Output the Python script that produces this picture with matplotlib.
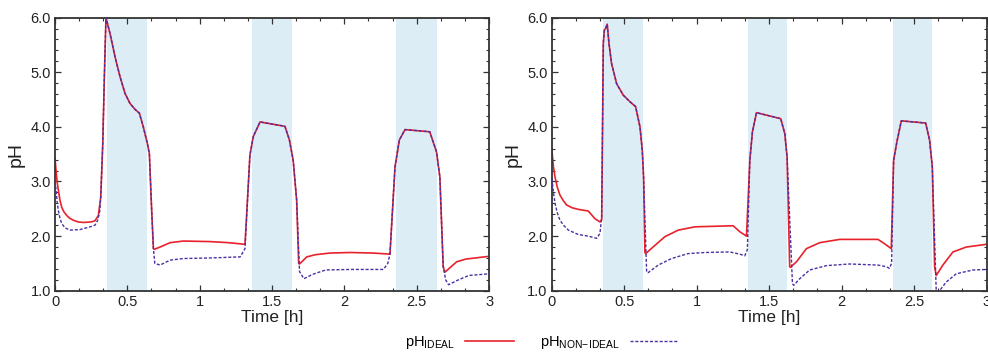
import matplotlib
matplotlib.use('Agg')
import matplotlib.pyplot as plt
from matplotlib.ticker import MultipleLocator

plt.rcParams['font.family'] = ['Liberation Sans', 'DejaVu Sans']
plt.rcParams['mathtext.fontset'] = 'custom'
plt.rcParams['mathtext.rm'] = 'Liberation Sans'

# --- data (time in h, pH) ---
# left panel
t_ideal_a = [0, 0.007, 0.015, 0.023, 0.034, 0.046, 0.06, 0.08, 0.1, 0.127, 0.16, 0.196, 0.25, 0.276, 0.3,
             0.316, 0.33, 0.341, 0.352,
             0.38, 0.415, 0.449, 0.484, 0.518, 0.553, 0.583, 0.61, 0.638, 0.652, 0.668, 0.68, 0.687,
             0.726, 0.795, 0.887, 1.07, 1.2, 1.313, 1.347, 1.37, 1.417, 1.589, 1.62, 1.646, 1.67, 1.684,
             1.69, 1.74, 1.8, 1.9, 2.04, 2.2, 2.315, 2.35, 2.38, 2.419, 2.59, 2.637, 2.66, 2.683, 2.695,
             2.776, 2.84, 3.0]
ph_ideal_a = [3.42, 3.2, 2.98, 2.84, 2.66, 2.53, 2.45, 2.38, 2.33, 2.29, 2.26, 2.25, 2.26, 2.28, 2.38,
              2.72, 3.7, 4.92, 6.0,
              5.71, 5.28, 4.92, 4.61, 4.43, 4.32, 4.25, 4.0, 3.70, 3.51, 2.47, 1.77, 1.76,
              1.80, 1.88, 1.91, 1.9, 1.88, 1.85, 3.48, 3.82, 4.09, 4.01, 3.76, 3.39, 2.66, 1.5,
              1.49, 1.62, 1.66, 1.69, 1.70, 1.69, 1.67, 3.27, 3.76, 3.95, 3.91, 3.54, 3.08, 1.44, 1.34,
              1.53, 1.58, 1.63]

t_nonideal_a = [0, 0.007, 0.015, 0.023, 0.034, 0.046, 0.07, 0.104, 0.173, 0.242, 0.276, 0.295, 0.31, 0.316,
                0.33, 0.341, 0.352,
                0.38, 0.415, 0.449, 0.484, 0.518, 0.553, 0.583, 0.61, 0.638, 0.652, 0.668, 0.68, 0.69,
                0.726, 0.795, 0.887, 1.07, 1.28, 1.313, 1.347, 1.37, 1.417, 1.589, 1.62, 1.646, 1.67, 1.69,
                1.72, 1.78, 1.87, 2.04, 2.27, 2.30, 2.315, 2.35, 2.38, 2.419, 2.59, 2.637, 2.66, 2.683, 2.70,
                2.72, 2.78, 2.86, 3.0]
ph_nonideal_a = [3.0, 2.85, 2.62, 2.47, 2.33, 2.23, 2.15, 2.11, 2.12, 2.17, 2.2, 2.29, 2.47, 2.72,
                 3.7, 4.92, 6.0,
                 5.71, 5.28, 4.92, 4.61, 4.43, 4.32, 4.25, 4.0, 3.70, 3.51, 2.47, 1.77, 1.5,
                 1.47, 1.56, 1.59, 1.6, 1.62, 1.77, 3.48, 3.82, 4.09, 4.01, 3.76, 3.39, 2.66, 1.35,
                 1.22, 1.3, 1.38, 1.39, 1.39, 1.5, 1.67, 3.27, 3.76, 3.95, 3.91, 3.54, 3.08, 1.44, 1.2,
                 1.11, 1.19, 1.28, 1.31]

# right panel
t_ideal_b = [0, 0.004, 0.012, 0.023, 0.038, 0.057, 0.08, 0.103, 0.14, 0.183, 0.252, 0.298, 0.333, 0.345,
             0.356, 0.363, 0.372, 0.383,
             0.395, 0.413, 0.448, 0.494, 0.54, 0.579, 0.609, 0.625, 0.634, 0.643, 0.648, 0.712, 0.781,
             0.873, 0.988, 1.252, 1.298, 1.344, 1.367, 1.385, 1.413, 1.58, 1.608, 1.624, 1.642, 1.647,
             1.689, 1.757, 1.849, 1.987, 2.251, 2.297, 2.343, 2.359, 2.382, 2.412, 2.58, 2.607, 2.626,
             2.642, 2.653, 2.699, 2.768, 2.86, 3.0]
ph_ideal_b = [3.62, 3.5, 3.27, 3.08, 2.9, 2.75, 2.65, 2.57, 2.52, 2.49, 2.46, 2.32, 2.26, 2.3,
              5.53, 5.77, 5.80, 5.88,
              5.53, 5.16, 4.79, 4.58, 4.46, 4.37, 4.0, 3.57, 3.08, 1.7, 1.68, 1.83, 1.99,
              2.11, 2.17, 2.19, 2.08, 2.0, 3.39, 3.91, 4.26, 4.15, 3.88, 3.45, 1.44, 1.43,
              1.53, 1.77, 1.88, 1.94, 1.94, 1.86, 1.77, 3.39, 3.73, 4.11, 4.07, 3.76, 3.27,
              1.44, 1.28, 1.47, 1.71, 1.80, 1.85]

t_nonideal_b = [0, 0.004, 0.012, 0.023, 0.038, 0.057, 0.085, 0.115, 0.183, 0.252, 0.31, 0.333, 0.345,
                0.356, 0.363, 0.372, 0.383,
                0.395, 0.413, 0.448, 0.494, 0.54, 0.579, 0.609, 0.625, 0.634, 0.655, 0.665, 0.735, 0.827,
                0.941, 1.057, 1.229, 1.298, 1.332, 1.35, 1.367, 1.385, 1.413, 1.58, 1.608, 1.624, 1.661, 1.67,
                1.711, 1.78, 1.895, 2.056, 2.25, 2.309, 2.33, 2.345, 2.359, 2.382, 2.412, 2.58, 2.607, 2.626,
                2.653, 2.67, 2.722, 2.791, 2.906, 3.0]
ph_nonideal_b = [3.05, 3.0, 2.8, 2.6, 2.43, 2.29, 2.19, 2.11, 2.03, 2.0, 1.96, 2.05, 2.35,
                 5.53, 5.77, 5.80, 5.88,
                 5.53, 5.16, 4.79, 4.58, 4.46, 4.37, 4.0, 3.57, 3.08, 1.34, 1.33, 1.47, 1.59,
                 1.68, 1.70, 1.71, 1.67, 1.64, 1.75, 3.39, 3.91, 4.26, 4.15, 3.88, 3.45, 1.13, 1.1,
                 1.22, 1.38, 1.46, 1.49, 1.47, 1.44, 1.41, 1.5, 3.39, 3.73, 4.11, 4.07, 3.76, 3.27,
                 1.0, 0.98, 1.16, 1.31, 1.38, 1.39]

# shaded intervals (h)
shade_a = [(0.36, 0.635), (1.36, 1.635), (2.36, 2.637)]
shade_b = [(0.355, 0.628), (1.353, 1.626), (2.352, 2.626)]

x_ticks = [0, 0.5, 1, 1.5, 2, 2.5, 3]
x_labels = ['0', '0.5', '1', '1.5', '2', '2.5', '3']
y_ticks = [1.0, 2.0, 3.0, 4.0, 5.0, 6.0]

red = '#e8222b'
purple = '#4b2fa3'
shade = '#dcedf6'
frame = '#333333'

fig = plt.figure(figsize=(9.88, 3.52), dpi=100)
ax1 = fig.add_axes([0.0557, 0.174, 0.4393, 0.776])
ax2 = fig.add_axes([0.5584, 0.174, 0.4401, 0.776])

panels = [
    (ax1, t_ideal_a, ph_ideal_a, t_nonideal_a, ph_nonideal_a, shade_a),
    (ax2, t_ideal_b, ph_ideal_b, t_nonideal_b, ph_nonideal_b, shade_b),
]

for ax, ti, pi, tn, pn, sh in panels:
    for a, b in sh:
        ax.axvspan(a, b, color=shade, lw=0, zorder=0)
    l1, = ax.plot(ti, pi, color=red, lw=1.2, zorder=2)
    l2, = ax.plot(tn, pn, color=purple, lw=1.0, ls=(0, (2.2, 1.3)), zorder=3)
    ax.set_xlim(0, 3)
    ax.set_ylim(1.0, 6.0)
    ax.set_xticks(x_ticks)
    ax.set_xticklabels(x_labels)
    ax.set_yticks(y_ticks)
    ax.set_yticklabels(['%.1f' % v for v in y_ticks])
    ax.xaxis.set_minor_locator(MultipleLocator(1 / 6))
    ax.yaxis.set_minor_locator(MultipleLocator(0.2))
    ax.tick_params(which='both', direction='in', top=True, right=True, colors=frame,
                   labelsize=10.5, labelcolor='#222222', pad=3)
    ax.tick_params(which='major', length=4, width=0.9)
    ax.tick_params(which='minor', length=2.5, width=0.8)
    for s in ax.spines.values():
        s.set_color(frame)
        s.set_linewidth(1.3)
    ax.set_xlabel('Time [h]', fontsize=12.5, labelpad=1, color='#222222')
    ax.set_ylabel('pH', fontsize=14, labelpad=4, color='#222222')

fig.legend([l1, l2], [r'pH$_{\mathrm{IDEAL}}$', r'pH$_{\mathrm{NON\!-\!IDEAL}}$'],
           loc='lower center', bbox_to_anchor=(0.548, -0.035), ncol=2, frameon=False,
           markerfirst=False, fontsize=10.5, handlelength=3.3, columnspacing=1.8,
           handletextpad=0.7)

fig.savefig('out.png', dpi=100)
